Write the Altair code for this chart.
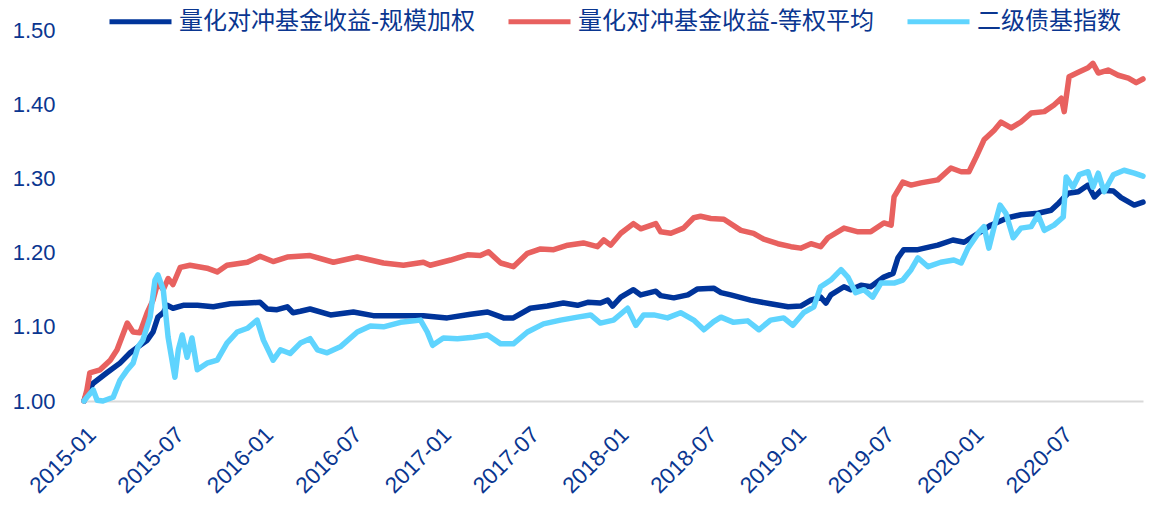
import altair as alt
import pandas as pd

START = "2015-01-01"
series_names = ["量化对冲基金收益-规模加权", "量化对冲基金收益-等权平均", "二级债基指数"]
colors = ["#00349A", "#E8615F", "#5FD4FE"]
text_color = "#0A3690"

# days elapsed since 2015-01-01 and net values
blue_days = [0, 6, 19, 47, 74, 95, 111, 130, 142, 152, 163, 171, 183, 204, 233, 266, 301, 336, 362, 377,
             397, 418, 430, 445, 465, 507, 554, 595, 644, 698, 747, 795, 830, 863, 883, 918, 953, 986, 1015, 1036,
             1062, 1077, 1087, 1104, 1130, 1145, 1176, 1186, 1213, 1242, 1262, 1295, 1310, 1330, 1371, 1412, 1448, 1474, 1495, 1515,
             1526, 1536, 1563, 1577, 1598, 1618, 1645, 1664, 1674, 1686, 1715, 1742, 1756, 1787, 1810, 1839, 1865, 1900, 1927, 1962,
             1989, 2005, 2024, 2045, 2065, 2078, 2092, 2117, 2133, 2160, 2178]
blue_vals = [1.000, 1.011, 1.024, 1.038, 1.051, 1.065, 1.073, 1.082, 1.093, 1.113, 1.119, 1.129, 1.125, 1.129, 1.129, 1.127, 1.131, 1.132, 1.133, 1.124,
             1.123, 1.127, 1.119, 1.121, 1.124, 1.116, 1.120, 1.115, 1.115, 1.115, 1.112, 1.117, 1.120, 1.112, 1.112, 1.125, 1.128, 1.132, 1.129, 1.133,
             1.132, 1.136, 1.128, 1.140, 1.150, 1.143, 1.148, 1.142, 1.139, 1.143, 1.151, 1.152, 1.146, 1.143, 1.136, 1.131, 1.127, 1.128, 1.136, 1.140,
             1.132, 1.143, 1.154, 1.150, 1.156, 1.154, 1.167, 1.172, 1.193, 1.204, 1.204, 1.208, 1.210, 1.217, 1.214, 1.226, 1.237, 1.247, 1.251, 1.253,
             1.257, 1.267, 1.280, 1.282, 1.291, 1.275, 1.284, 1.283, 1.274, 1.264, 1.268]

red_days = [0, 6, 12, 33, 54, 68, 89, 101, 115, 130, 142, 152, 163, 173, 183, 198, 218, 253, 274, 294,
            336, 362, 389, 418, 465, 513, 562, 616, 657, 698, 712, 754, 789, 815, 832, 857, 883, 912, 939, 966,
            995, 1027, 1056, 1069, 1083, 1104, 1130, 1145, 1176, 1186, 1207, 1233, 1254, 1268, 1289, 1316, 1351, 1377, 1398, 1427,
            1454, 1474, 1495, 1515, 1530, 1563, 1592, 1618, 1645, 1660, 1666, 1684, 1701, 1721, 1756, 1783, 1804, 1820, 1835, 1851,
            1872, 1886, 1907, 1927, 1948, 1975, 1995, 2010, 2016, 2026, 2045, 2065, 2075, 2086, 2106, 2127, 2148, 2164, 2178]
red_vals = [1.000, 1.015, 1.038, 1.042, 1.055, 1.069, 1.105, 1.093, 1.092, 1.119, 1.136, 1.160, 1.150, 1.165, 1.157, 1.180, 1.183, 1.179, 1.174, 1.183,
            1.187, 1.195, 1.188, 1.194, 1.196, 1.187, 1.194, 1.186, 1.183, 1.187, 1.183, 1.190, 1.197, 1.196, 1.201, 1.186, 1.181, 1.199, 1.205, 1.204,
            1.210, 1.213, 1.208, 1.217, 1.210, 1.226, 1.239, 1.232, 1.239, 1.228, 1.226, 1.233, 1.247, 1.249, 1.246, 1.245, 1.230, 1.226, 1.218, 1.212,
            1.208, 1.206, 1.212, 1.208, 1.220, 1.233, 1.228, 1.228, 1.240, 1.237, 1.275, 1.295, 1.291, 1.294, 1.298, 1.314, 1.309, 1.309, 1.329, 1.352,
            1.365, 1.376, 1.368, 1.376, 1.388, 1.390, 1.399, 1.408, 1.390, 1.437, 1.443, 1.449, 1.455, 1.442, 1.446, 1.439, 1.435, 1.429, 1.434]

lb_days = [0, 6, 19, 27, 39, 60, 74, 89, 101, 111, 121, 136, 146, 152, 163, 173, 187, 194, 202, 212,
           222, 233, 253, 274, 294, 315, 336, 356, 369, 389, 404, 424, 445, 465, 480, 500, 527, 562, 589, 616,
           651, 692, 706, 717, 739, 768, 801, 830, 857, 883, 912, 945, 980, 1015, 1042, 1062, 1089, 1118, 1135, 1151,
           1172, 1200, 1227, 1254, 1275, 1295, 1310, 1336, 1365, 1388, 1412, 1439, 1458, 1480, 1501, 1515, 1536, 1557, 1571, 1587,
           1604, 1622, 1639, 1666, 1684, 1701, 1715, 1736, 1762, 1789, 1804, 1818, 1841, 1851, 1861, 1872, 1884, 1896, 1911, 1927,
           1948, 1962, 1975, 1995, 2014, 2020, 2034, 2047, 2065, 2075, 2086, 2098, 2117, 2139, 2160, 2178]
lb_vals = [1.000, 1.005, 1.015, 1.001, 1.000, 1.005, 1.028, 1.042, 1.051, 1.073, 1.082, 1.113, 1.163, 1.170, 1.150, 1.086, 1.032, 1.069, 1.089, 1.059,
           1.085, 1.042, 1.051, 1.055, 1.078, 1.093, 1.098, 1.109, 1.082, 1.055, 1.069, 1.064, 1.078, 1.084, 1.069, 1.065, 1.073, 1.093, 1.101, 1.100,
           1.106, 1.109, 1.093, 1.075, 1.085, 1.084, 1.086, 1.089, 1.077, 1.077, 1.093, 1.104, 1.109, 1.113, 1.116, 1.105, 1.109, 1.125, 1.102, 1.116,
           1.116, 1.112, 1.119, 1.109, 1.096, 1.107, 1.113, 1.106, 1.108, 1.096, 1.109, 1.112, 1.102, 1.119, 1.127, 1.154, 1.163, 1.177, 1.167, 1.146,
           1.150, 1.140, 1.159, 1.159, 1.163, 1.177, 1.193, 1.181, 1.187, 1.190, 1.186, 1.206, 1.228, 1.235, 1.206, 1.235, 1.264, 1.253, 1.220, 1.233,
           1.235, 1.251, 1.230, 1.237, 1.248, 1.302, 1.288, 1.305, 1.309, 1.288, 1.307, 1.282, 1.305, 1.311, 1.307, 1.303]

y_ticks = [1.0, 1.1, 1.2, 1.3, 1.4, 1.5]
x_tick_labels = ["2015-01", "2015-07", "2016-01", "2016-07", "2017-01", "2017-07", "2018-01",
                 "2018-07", "2019-01", "2019-07", "2020-01", "2020-07"]

frames = []
for name, days, vals in zip(series_names, [blue_days, red_days, lb_days], [blue_vals, red_vals, lb_vals]):
    d = pd.DataFrame({
        "date": (pd.Timestamp(START) + pd.to_timedelta(days, unit="D")).strftime("%Y-%m-%dT00:00:00"),
        "value": vals,
        "series": name,
    })
    frames.append(d)
df = pd.concat(frames, ignore_index=True)

def dt(s):
    y, m = s.split("-")[:2]
    return alt.DateTime(year=int(y), month=int(m), date=1)

x_values = [dt(s) for s in x_tick_labels]
font = "Liberation Sans, Arial, Noto Sans CJK SC"

chart = alt.Chart(df).mark_line(strokeWidth=5.5, strokeJoin="round", strokeCap="round").encode(
    x=alt.X("date:T",
            scale=alt.Scale(domain=[alt.DateTime(year=2015, month=1, date=1),
                                    alt.DateTime(year=2020, month=12, date=18)]),
            axis=alt.Axis(values=x_values, format="%Y-%m", labelAngle=-45, labelAlign="right",
                          labelBaseline="top", labelFontSize=22.5, labelColor=text_color, labelFont=font,
                          domainColor="#D9D9D9", domainWidth=2, ticks=False, grid=False, title=None,
                          labelPadding=22, labelOverlap=False, labelFlush=False)),
    y=alt.Y("value:Q",
            scale=alt.Scale(domain=[1.0, 1.5], nice=False, zero=False),
            axis=alt.Axis(values=y_ticks, format=".2f", domain=False, ticks=False, grid=False,
                          labelFontSize=22, labelColor=text_color, labelFont=font, labelPadding=29,
                          title=None)),
    color=alt.Color("series:N",
                    scale=alt.Scale(domain=series_names, range=colors),
                    legend=alt.Legend(orient="none", legendX=23, legendY=-42, direction="horizontal",
                                      title=None, symbolType="stroke", symbolSize=3844,
                                      symbolStrokeWidth=5, labelFontSize=24, labelColor=text_color,
                                      labelFont=font, labelLimit=500, columnPadding=23, labelOffset=5,
                                      padding=0)),
).properties(
    width=1059, height=371, autosize="none",
    padding={"left": 76, "top": 22, "right": 16, "bottom": 96},
).configure_view(stroke=None)

chart.save("out.html", embed_options={"renderer": "svg", "actions": False})
